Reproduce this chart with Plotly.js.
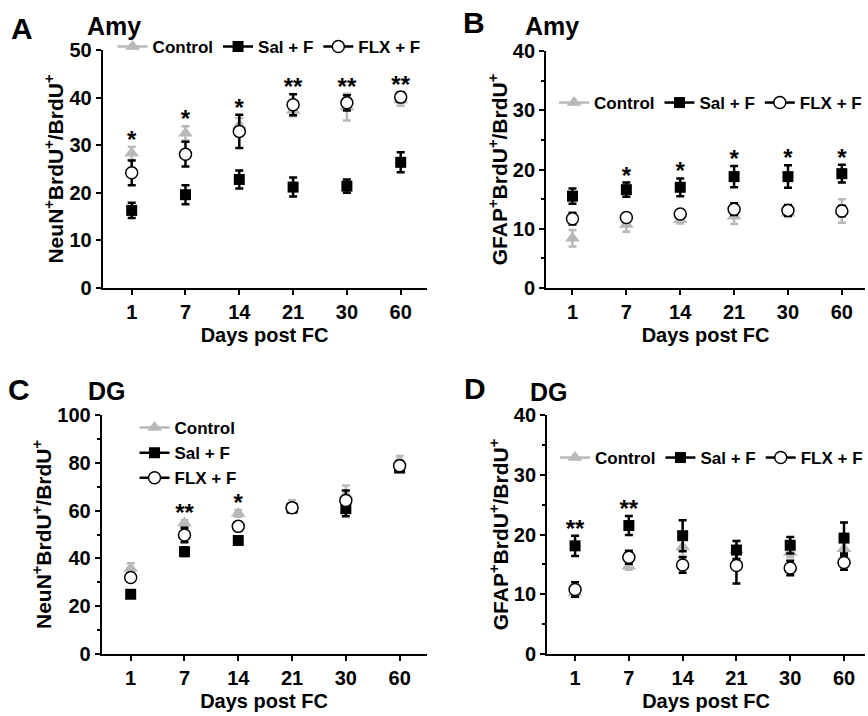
<!DOCTYPE html>
<html><head><meta charset="utf-8">
<script src="https://cdn.plot.ly/plotly-3.0.1.min.js"></script>
<style>html,body{margin:0;padding:0;background:#fff}#chart{width:868px;height:716px}</style>
</head><body><div id="chart"></div>
<script>
// ---- data ----
const days = ['1','7','14','21','30','60'];
const seriesNames = ['Control','Sal + F','FLX + F'];

// Panel A: Amy NeuN+BrdU+/BrdU+
const ctrlA = [28.3, 32.5, 34.2, 37.3, 38.0, 39.5];
const ctrlAerr = [1.4, 1.5, 1.5, 1.2, 2.8, 1.2];
const salA = [16.3, 19.6, 22.8, 21.2, 21.4, 26.4];
const salAerr = [1.6, 2.0, 1.9, 2.0, 1.4, 2.1];
const flxA = [24.2, 28.1, 32.9, 38.5, 38.9, 40.1];
const flxAerr = [2.6, 2.6, 3.5, 2.2, 1.6, 1.0];
const starsA = ['*','*','*','**','**','**'];

// Panel B: Amy GFAP+BrdU+/BrdU+
const ctrlB = [8.4, 10.7, 11.5, 12.1, 12.6, 13.0];
const ctrlBerr = [1.4, 1.2, 0.6, 1.3, 0.6, 2.0];
const salB = [15.5, 16.6, 17.0, 18.8, 18.8, 19.3];
const salBerr = [1.3, 1.2, 1.5, 1.8, 1.9, 1.5];
const flxB = [11.7, 11.9, 12.5, 13.3, 13.1, 13.0];
const flxBerr = [1.0, 0.7, 0.6, 1.0, 0.9, 0.9];
const starsB = ['','*','*','*','*','*'];

// Panel C: DG NeuN+BrdU+/BrdU+
const ctrlC = [35.8, 54.8, 58.8, 62.3, 66.5, 80.8];
const ctrlCerr = [2.2, 1.2, 1.4, 2.0, 4.0, 2.0];
const salC = [25.0, 42.8, 47.5, 61.0, 60.8, 77.8];
const salCerr = [1.2, 1.8, 1.6, 1.5, 3.2, 1.5];
const flxC = [32.0, 49.8, 53.4, 61.2, 64.2, 78.8];
const flxCerr = [1.8, 3.0, 1.5, 1.5, 4.2, 2.0];
const starsC = ['','**','*','','',''];

// Panel D: DG GFAP+BrdU+/BrdU+
const ctrlD = [10.2, 14.7, 17.9, 17.4, 17.0, 17.6];
const ctrlDerr = [0.5, 0.6, 1.5, 1.5, 0.8, 1.5];
const salD = [18.1, 21.5, 19.8, 17.4, 18.2, 19.4];
const salDerr = [1.7, 1.6, 2.6, 1.5, 1.4, 2.6];
const flxD = [10.8, 16.2, 14.9, 14.8, 14.4, 15.3];
const flxDerr = [1.2, 1.1, 1.3, 3.0, 1.2, 1.2];
const starsD = ['**','**','','','',''];

const panelLetters = ['A','B','C','D'];
const regionNames = ['Amy','Amy','DG','DG'];
const yTitles = ['NeuN<sup>+</sup>BrdU<sup>+</sup>/BrdU<sup>+</sup>',
                 'GFAP<sup>+</sup>BrdU<sup>+</sup>/BrdU<sup>+</sup>',
                 'NeuN<sup>+</sup>BrdU<sup>+</sup>/BrdU<sup>+</sup>',
                 'GFAP<sup>+</sup>BrdU<sup>+</sup>/BrdU<sup>+</sup>'];
const xTitle = 'Days post FC';

// ---- style / layout ----
const W = 868, H = 716;
const FONT = 'Liberation Sans, Arial, sans-serif';
const GRAY = '#b9b9b9';
const px = x => x / W, py = y => 1 - y / H;

const panels = [
  {ctrl:ctrlA, ce:ctrlAerr, sal:salA, se:salAerr, flx:flxA, fe:flxAerr, stars:starsA,
   dom:[103,428,50,288], xr:[-0.54,5.48], yr:[0,50], dt:10, minor:null,
   leg:{x:px(113), y:py(47), orientation:'h'}, letter:[22,28], region:[114,26], standoff:0},
  {ctrl:ctrlB, ce:ctrlBerr, sal:salB, se:salBerr, flx:flxB, fe:flxBerr, stars:starsB,
   dom:[548,868,51,288], xr:[-0.49,5.43], yr:[0,40], dt:10, minor:5,
   leg:{x:px(556), y:py(103), orientation:'h'}, letter:[476,22], region:[554,26], standoff:0},
  {ctrl:ctrlC, ce:ctrlCerr, sal:salC, se:salCerr, flx:flxC, fe:flxCerr, stars:starsC,
   dom:[102,428,415,654], xr:[-0.54,5.5], yr:[0,100], dt:20, minor:10,
   leg:{x:px(135), y:py(410), orientation:'v', yanchor:'top'}, letter:[19,389], region:[107,391], standoff:0},
  {ctrl:ctrlD, ce:ctrlDerr, sal:salD, se:salDerr, flx:flxD, fe:flxDerr, stars:starsD,
   dom:[549,868,415,654], xr:[-0.52,5.39], yr:[0,40], dt:10, minor:5,
   leg:{x:px(557), y:py(458), orientation:'h'}, letter:[477,388], region:[551,392], standoff:0}
];

const traces = [];
const layout = {
  width: W, height: H, margin:{l:0,r:0,t:0,b:0},
  paper_bgcolor:'#fff', plot_bgcolor:'#fff', showlegend:true,
  font:{family:FONT, color:'#000', size:17, weight:'bold'},
  annotations: []
};

panels.forEach((p, i) => {
  const n = i + 1;
  const xa = 'x' + (n === 1 ? '' : n), ya = 'y' + (n === 1 ? '' : n);
  const legName = 'legend' + (n === 1 ? '' : n);
  const styles = [
    {name:seriesNames[0], y:p.ctrl, e:p.ce, marker:{symbol:'triangle-up', size:13, color:GRAY, line:{width:0}}, ecol:GRAY, lcol:GRAY},
    {name:seriesNames[1], y:p.sal, e:p.se, marker:{symbol:'square', size:11, color:'#000', line:{width:0}}, ecol:'#000', lcol:'#000'},
    {name:seriesNames[2], y:p.flx, e:p.fe, marker:{symbol:'circle', size:12, color:'#fff', line:{width:1.5, color:'#000'}}, ecol:'#000', lcol:'#000'}
  ];
  styles.forEach(s => {
    traces.push({
      type:'scatter', mode:'markers', x:days, y:s.y, xaxis:xa, yaxis:ya,
      name:s.name, showlegend:false, marker:s.marker, cliponaxis:false,
      error_y:{type:'data', array:s.e, visible:true, color:s.ecol, thickness:2.5, width:4}
    });
  });
  // legend-only entries (line + marker symbols)
  styles.forEach(s => {
    traces.push({
      type:'scatter', mode:'lines+markers', x:[null], y:[null], xaxis:xa, yaxis:ya,
      name:s.name, legend:legName, showlegend:true, marker:s.marker,
      line:{color:s.lcol, width:2.5}
    });
  });
  // significance stars placed above the highest error bar
  const span = p.yr[1] - p.yr[0];
  const plotH = p.dom[3] - p.dom[2];
  const off = 5 * span / plotH;
  const idx = days.map((d, k) => k).filter(k => p.stars[k]);
  traces.push({
    type:'scatter', mode:'text',
    x: idx.map(k => days[k]),
    y: idx.map(k => Math.max(p.ctrl[k] + p.ce[k], p.sal[k] + p.se[k], p.flx[k] + p.fe[k]) + off),
    text: idx.map(k => p.stars[k]), xaxis:xa, yaxis:ya,
    textposition:'middle center', showlegend:false, cliponaxis:false, hoverinfo:'skip',
    textfont:{family:FONT, size:24, color:'#000', weight:'bold'}
  });

  const axisCommon = {
    showgrid:false, zeroline:false, showline:true, linecolor:'#000', linewidth:2,
    ticks:'outside', ticklen:5, tickwidth:2, tickcolor:'#000',
    tickfont:{family:FONT, size:20, color:'#000', weight:'bold'}
  };
  layout['xaxis' + (n === 1 ? '' : n)] = Object.assign({}, axisCommon, {
    type:'category', categoryorder:'array', categoryarray:days,
    domain:[px(p.dom[0]), px(p.dom[1])], range:p.xr, anchor:ya,
    title:{text:xTitle, font:{family:FONT, size:20, color:'#000', weight:'bold'}, standoff:6}
  });
  const yax = Object.assign({}, axisCommon, {
    domain:[py(p.dom[3]), py(p.dom[2])], range:p.yr, dtick:p.dt, tick0:0, anchor:xa,
    title:{text:yTitles[i], font:{family:FONT, size:21, color:'#000', weight:'bold'}, standoff:p.standoff}
  });
  if (p.minor) yax.minor = {dtick:p.minor, tick0:0, ticks:'outside', ticklen:3, tickwidth:2, tickcolor:'#000'};
  layout['yaxis' + (n === 1 ? '' : n)] = yax;

  layout[legName] = Object.assign({
    xanchor:'left', yanchor:'middle', bgcolor:'rgba(0,0,0,0)', borderwidth:0,
    font:{family:FONT, size:17, color:'#000', weight:'bold'},
    itemwidth:30, tracegroupgap:0, traceorder:'normal'
  }, p.leg);

  layout.annotations.push({
    xref:'paper', yref:'paper', x:px(p.letter[0]), y:py(p.letter[1]), text:panelLetters[i],
    showarrow:false, xanchor:'center', yanchor:'middle',
    font:{family:FONT, size:30, color:'#000', weight:'bold'}
  });
  layout.annotations.push({
    xref:'paper', yref:'paper', x:px(p.region[0]), y:py(p.region[1]), text:regionNames[i],
    showarrow:false, xanchor:'center', yanchor:'middle',
    font:{family:FONT, size:25, color:'#000', weight:'bold'}
  });
});

Plotly.newPlot('chart', traces, layout, {staticPlot:true, displayModeBar:false});
</script></body></html>
